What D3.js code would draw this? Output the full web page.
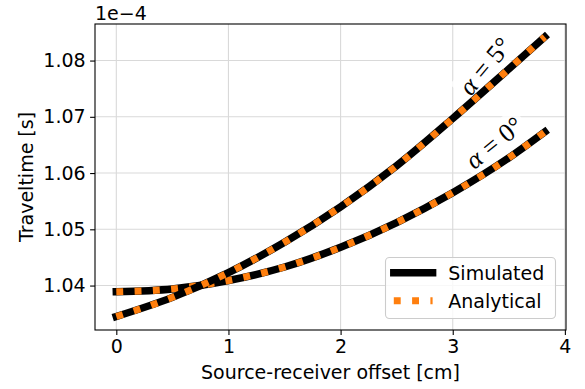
<!DOCTYPE html>
<html>
<head>
<meta charset="utf-8">
<script src="https://cdn.jsdelivr.net/npm/d3@7"></script>
<style>
  body { margin: 0; background: #fff; }
  svg text { font-family: "DejaVu Sans", sans-serif; fill: #000; }
</style>
</head>
<body>
<script>

// source-receiver offset [cm] and traveltimes [1e-4 s]
var offsets = [0, 0.5, 1, 1.5, 2, 2.5, 3, 3.5, 3.82];
var simulated0 = [1.0389, 1.0394, 1.0409, 1.0433, 1.0468, 1.0512, 1.0565, 1.0627, 1.0673];
var analytical0 = [1.0389, 1.0394, 1.0409, 1.0433, 1.0468, 1.0512, 1.0565, 1.0627, 1.0673];
var simulated5 = [1.0345, 1.0379, 1.0423, 1.0477, 1.0540, 1.0613, 1.0697, 1.0785, 1.0842];
var analytical5 = [1.0345, 1.0379, 1.0423, 1.0477, 1.0540, 1.0613, 1.0697, 1.0785, 1.0842];
var xTicks = [0, 1, 2, 3, 4];
var yTicks = [1.04, 1.05, 1.06, 1.07, 1.08];

var width = 585,
    height = 389,
    margin = { top: 24, right: 19, bottom: 59, left: 95 },
    fontSize = 19;

var x = d3.scaleLinear()
    .domain([-0.19, 4.01])
    .range([margin.left, width - margin.right]);

var y = d3.scaleLinear()
    .domain([1.0321, 1.0865])
    .range([height - margin.bottom, margin.top]);

var svg = d3.select("body").append("svg")
    .attr("width", width)
    .attr("height", height);

// grid
svg.append("g").selectAll("line")
    .data(xTicks)
    .enter().append("line")
        .attr("x1", function(d) { return x(d); })
        .attr("x2", function(d) { return x(d); })
        .attr("y1", margin.top)
        .attr("y2", height - margin.bottom)
        .attr("stroke", "#d9d9d9")
        .attr("stroke-width", 1.1);

svg.append("g").selectAll("line")
    .data(yTicks)
    .enter().append("line")
        .attr("x1", margin.left)
        .attr("x2", width - margin.right)
        .attr("y1", function(d) { return y(d); })
        .attr("y2", function(d) { return y(d); })
        .attr("stroke", "#d9d9d9")
        .attr("stroke-width", 1.1);

// annotations (alpha labels, rotated along the curves), under the lines
var notes = [
    { label: "5°", cx: 485, cy: 66, angle: -50 },
    { label: "0°", cx: 494, cy: 142.5, angle: -39 }
];

notes.forEach(function(n) {
    var g = svg.append("g")
        .attr("transform", "translate(" + n.cx + "," + n.cy + ") rotate(" + n.angle + ")");
    var t = g.append("text")
        .attr("text-anchor", "middle")
        .attr("y", 9)
        .style("font-family", "'Liberation Serif', serif")
        .style("font-size", "26px");
    t.append("tspan").style("font-style", "italic").text("α");
    t.append("tspan").attr("dx", 7).text("=");
    t.append("tspan").attr("dx", 7).text(n.label);
    var bb = t.node().getBBox();
    g.insert("rect", "text")
        .attr("x", bb.x - 4)
        .attr("y", bb.y - 1)
        .attr("width", bb.width + 8)
        .attr("height", bb.height + 2)
        .attr("fill", "#fff")
        .attr("fill-opacity", 0.8);
});

// curves
var line = d3.line()
    .x(function(d) { return x(d[0]); })
    .y(function(d) { return y(d[1]); })
    .curve(d3.curveMonotoneX);

function pairs(vals) {
    return offsets.map(function(o, i) { return [o, vals[i]]; });
}

var series = [
    { vals: simulated0, kind: "sim" },
    { vals: analytical0, kind: "ana" },
    { vals: simulated5, kind: "sim" },
    { vals: analytical5, kind: "ana" }
];

function styleLine(sel, kind) {
    if (kind == "sim") {
        sel.attr("stroke", "#000")
            .attr("stroke-width", 7.5)
            .attr("stroke-linecap", "square");
    } else {
        sel.attr("stroke", "#ff7f0e")
            .attr("stroke-width", 6.9)
            .attr("stroke-dasharray", "6.9,11.4")
            .attr("stroke-linecap", "butt");
    }
}

series.forEach(function(s) {
    svg.append("path")
        .attr("d", line(pairs(s.vals)))
        .attr("fill", "none")
        .call(styleLine, s.kind);
});

// axes
var xAxis = svg.append("g")
    .attr("transform", "translate(0," + (height - margin.bottom) + ")")
    .call(d3.axisBottom(x).tickValues(xTicks).tickFormat(d3.format("d")).tickSize(4.9).tickPadding(4.5));

var yAxis = svg.append("g")
    .attr("transform", "translate(" + margin.left + ",0)")
    .call(d3.axisLeft(y).tickValues(yTicks).tickFormat(d3.format(".2f")).tickSize(4.9).tickPadding(4.5));

[xAxis, yAxis].forEach(function(a) {
    a.select(".domain").remove();
    a.selectAll("line").attr("stroke", "#000").attr("stroke-width", 1.1);
    a.selectAll("text")
        .style("font-family", "'DejaVu Sans', sans-serif")
        .style("font-size", fontSize + "px")
        .attr("fill", "#000");
});

svg.append("rect")
    .attr("x", margin.left)
    .attr("y", margin.top)
    .attr("width", width - margin.left - margin.right)
    .attr("height", height - margin.top - margin.bottom)
    .attr("fill", "none")
    .attr("stroke", "#000")
    .attr("stroke-width", 1.1);

// offset text + labels
svg.append("text")
    .attr("x", margin.left)
    .attr("y", 20)
    .style("font-size", fontSize + "px")
    .text("1e\u22124");

svg.append("text")
    .attr("x", (margin.left + width - margin.right) / 2)
    .attr("y", 379)
    .attr("text-anchor", "middle")
    .style("font-size", fontSize + "px")
    .text("Source-receiver offset [cm]");

svg.append("text")
    .attr("transform", "translate(33," + ((margin.top + height - margin.bottom) / 2) + ") rotate(-90)")
    .attr("text-anchor", "middle")
    .style("font-size", fontSize + "px")
    .text("Traveltime [s]");

// legend
var legend = svg.append("g");
legend.append("rect")
    .attr("x", 385.5)
    .attr("y", 257.5)
    .attr("width", 170)
    .attr("height", 61)
    .attr("rx", 4)
    .attr("fill", "#fff")
    .attr("fill-opacity", 0.8)
    .attr("stroke", "#cccccc")
    .attr("stroke-width", 1.1);

var legendItems = [
    { name: "Simulated", kind: "sim", cy: 272.7 },
    { name: "Analytical", kind: "ana", cy: 300.7 }
];

legendItems.forEach(function(it) {
    legend.append("line")
        .attr("x1", 393.8)
        .attr("x2", 432.6)
        .attr("y1", it.cy)
        .attr("y2", it.cy)
        .call(styleLine, it.kind);
    legend.append("text")
        .attr("x", 448.3)
        .attr("y", it.cy + 6.8)
        .style("font-size", fontSize + "px")
        .text(it.name);
});

</script>
</body>
</html>
